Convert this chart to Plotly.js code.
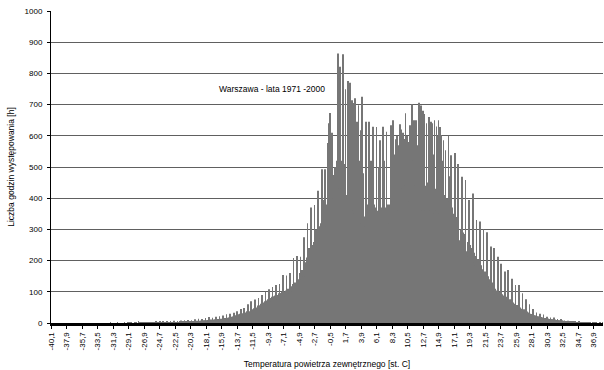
<!DOCTYPE html>
<html>
<head>
<meta charset="utf-8">
<script src="https://cdn.plot.ly/plotly-3.0.1.min.js"></script>
<style>
html,body{margin:0;padding:0;background:#ffffff;}
#chart{width:604px;height:370px;}
</style>
</head>
<body>
<div id="chart"></div>
<script>
// Hours of occurrence per 0.1 degC bin, starting at -40.1 degC
const coldTail = [
  0,0,0,0,0,0,0,0,0,0,
  0,0,0,0,0,0,0,0,0,0,
  0,0,0,0,0,0,0,0,0,0,
  0,0,0,0,0,0,0,0,0,0,
  0,0,0,0,0,0,0,0,0,0,
  0,0,0,0,0,0,0,0,0,0,
  0,0,0,0,0,0,0,0,0,0,
  0,0,0,0,0,0,0,0,0,0,
  0,0,0,0,1,0,0,0,0,0,
  0,0,0,0,1,0,0,0,0,0,
  0,0,0,0,1,0,0,0,0,2,
  0,0,1,0,1,0,0,0,0,2,
  0,1,0,0,4,0,1,0,0,2,
  1,0,0,1,3,0,1,0,1,3,
  1,0,1,1,2,1,0,1,1,4,
  1,1,2,1,5,1,2,1,1,4,
  2,1,2,2,6,2,1,2,2,5,
  2,3,2,2,7,3,2,3,2,6,
  3,3,4,3,8,3,4,3,4,9,
  4,3,5,4,10,4,5,4,5,9
];
const risingSide = [
  5,6,5,6,12,6,5,7,6,14,
  7,6,8,7,13,8,7,8,9,16,
  8,9,10,9,19,10,9,11,10,17,
  11,10,12,11,20,12,11,13,12,22,
  13,14,13,15,24,15,14,16,15,28,
  16,17,18,17,30,19,18,20,21,33,
  20,25,22,27,38,23,28,24,30,45,
  25,31,27,34,48,29,34,31,38,60,
  31,38,34,42,70,36,44,39,47,75,
  41,50,44,56,80,48,57,51,62,90,
  55,66,58,70,100,60,72,64,76,108,
  66,80,70,84,115,72,86,76,88,122,
  76,90,80,95,125,82,96,86,100,154,
  88,100,84,104,152,92,110,95,112,160,
  98,118,100,125,208,104,130,112,128,215,
  112,140,122,160,212,140,170,150,185,275,
  150,195,160,210,320,180,240,185,235,370,
  200,250,215,260,378,230,300,235,290,424,
  250,310,270,320,493,290,394,285,350,493
];
const peakZone = [
  310,380,330,577,640,350,673,370,450,610,
  400,474,390,500,465,420,520,864,430,540,
  821,430,520,420,861,440,510,430,749,410,
  400,776,380,480,770,370,460,714,360,705,
  350,720,340,420,645,330,698,520,340,618,
  320,725,300,480,341,310,500,645,300,380,
  300,645,290,360,520,295,370,629,290,380,
  295,370,628,285,360,500,300,586,290,370,
  300,629,290,520,300,370,613,300,380,310,
  320,380,634,320,390,650,330,540,330,589,
  350,600,360,570,420,637,370,620,430,610,
  380,590,440,672,380,600,450,580,390,634,
  380,620,701,370,520,650,440,380,650,570,
  370,540,706,430,600,697,360,450,680,370,
  670,360,440,640,370,450,660,560,360,645,
  360,640,540,350,650,430,360,630,420,600,
  650,350,628,420,602,520,340,586,410,330,
  554,320,400,330,600,390,470,310,538,370
];
const warmSide = [
  300,350,290,545,280,340,270,330,510,265,
  260,300,250,469,245,290,235,285,458,230,
  222,260,212,394,210,250,200,240,198,415,
  195,225,185,215,330,175,205,165,195,325,
  158,185,150,172,300,140,165,130,155,291,
  125,150,118,140,245,110,130,100,120,240,
  92,110,88,104,212,85,100,82,96,190,
  80,92,76,88,165,72,84,68,80,170,
  64,76,60,70,142,56,66,52,62,122,
  50,58,46,54,122,42,50,40,46,95,
  37,44,34,40,76,31,37,29,34,60,
  30,29,28,27,45,26,25,24,23,34,
  22,21,20,20,30,19,18,18,17,27,
  16,16,15,15,20,14,14,13,13,18,
  12,12,11,11,18,11,10,10,10,13,
  9,9,8,8,13,8,7,7,6,8,
  6,6,5,5,7,5,5,4,4,6,
  4,4,4,3,5,3,3,3,2,4,
  2,2,2,2,3,2,1,1,1,3,
  1,1,1,1,3,1,1,0,0,2,
  0,1,0,0,1,0,0,0,0,1,
  0,0,0,1
];

const hours = coldTail.concat(risingSide, peakZone, warmSide);
// temperature categories -40,1 ... in 0.1 steps (comma decimal, as in the original)
const categories = hours.map(function(_, i){ return ((-401 + i) / 10).toFixed(1).replace('.', ','); });
const tickLabels = categories.filter(function(_, i){ return i % 22 === 0; });
const yTicks = [0,100,200,300,400,500,600,700,800,900,1000];

const chartTitle = 'Warszawa - lata 1971 -2000';
const xTitle = 'Temperatura powietrza zewnętrznego [st. C]';
const yTitle = 'Liczba godzin występowania [h]';

const FONT = 'Liberation Sans, Arial, Helvetica, sans-serif';

const trace = {
  type: 'bar',
  x: categories,
  y: hours,
  marker: {color: '#767676', line: {width: 0}},
  hoverinfo: 'skip'
};

const layout = {
  width: 604,
  height: 370,
  margin: {l: 51, r: 1, t: 11, b: 47, pad: 0},
  paper_bgcolor: '#ffffff',
  plot_bgcolor: '#ffffff',
  bargap: 0.1,
  showlegend: false,
  font: {family: FONT, size: 8, color: '#000000'},
  xaxis: {
    type: 'category',
    categoryorder: 'array',
    categoryarray: categories,
    range: [-0.5, categories.length - 0.5],
    tickmode: 'array',
    tickvals: tickLabels,
    ticktext: tickLabels,
    tickangle: -90,
    ticks: 'outside',
    ticklen: 3,
    tickcolor: '#000000',
    tickfont: {family: FONT, size: 8, color: '#000000'},
    showline: true,
    linecolor: '#000000',
    linewidth: 3,
    showgrid: false,
    zeroline: false,
    automargin: false,
    title: {text: xTitle, font: {family: FONT, size: 8.5, color: '#000000'}, standoff: 12}
  },
  yaxis: {
    range: [0, 1000],
    tickmode: 'array',
    tickvals: yTicks,
    ticks: 'outside',
    ticklen: 3,
    tickcolor: '#000000',
    tickfont: {family: FONT, size: 8, color: '#000000'},
    ticklabelstandoff: 3,
    showline: true,
    linecolor: '#000000',
    linewidth: 1,
    showgrid: true,
    gridcolor: '#606060',
    gridwidth: 1,
    zeroline: false,
    automargin: false,
    title: {text: yTitle, font: {family: FONT, size: 8.5, color: '#000000'}, standoff: 8}
  },
  annotations: [{
    text: chartTitle,
    xref: 'paper', yref: 'paper',
    x: 0.3995, y: 0.75,
    xanchor: 'center', yanchor: 'middle',
    showarrow: false,
    font: {family: FONT, size: 8.5, color: '#000000'}
  }]
};

Plotly.newPlot('chart', [trace], layout, {displayModeBar: false});
</script>
</body>
</html>
